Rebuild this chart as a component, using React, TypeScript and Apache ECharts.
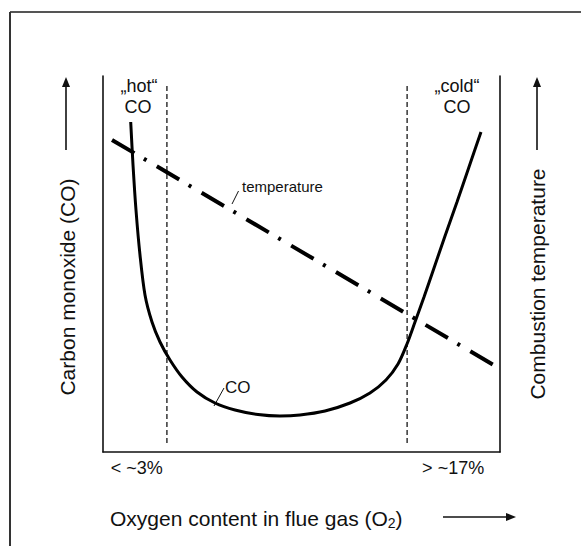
import React, { useEffect, useRef } from "react";
import * as echarts from "echarts";

// ---- data (abstract 0..100 scales: x = O2 content, y = CO / temperature) ----
const coX = [6.98, 7.56, 8.31, 9.32, 10.58, 12.34, 14.36, 16.88, 19.9, 23.68, 28.21, 33.25, 39.04, 44.58, 49.62, 55.92, 62.22, 67.25, 71.28, 74.31, 76.57, 78.59, 80.86, 83.38, 86.15, 89.17, 92.19, 95.21];
const coY = [87.77, 76.33, 64.36, 52.39, 41.76, 34.57, 29.26, 24.47, 19.95, 15.96, 13.03, 11.17, 9.97, 9.57, 9.84, 10.9, 13.03, 15.69, 19.15, 23.4, 28.72, 34.57, 41.22, 48.94, 57.45, 66.49, 75.8, 85.11];
const tempX = [2.27, 98.6];
const tempY = [83.0, 23.0];
const limitX = [16.1, 76.6];
const limitY = [2.4, 97.6];
const tickValues = [8.5, 88.2];
const tickLabels = ["< ~3%", "> ~17%"];
const hotLabel = ["\u201Ehot\u201C", "CO"];
const coldLabel = ["\u201Ecold\u201C", "CO"];
const xTitle = "Oxygen content in flue gas (O{sub|2})";
const yTitle = "Carbon monoxide (CO)";
const y2Title = "Combustion temperature";

const FONT = "'Liberation Sans', Arial, Helvetica, sans-serif";

export default function App() {
  const ref = useRef<HTMLDivElement>(null);
  useEffect(() => {
    if (!ref.current) return;
    const chart = echarts.init(ref.current, undefined, { renderer: "svg" });
    const axisLine = { show: true, onZero: false, lineStyle: { color: "#111", width: 1.6 } };
    const txt = (text: string, x: number, y: number, size: number, align = "center", extra: any = {}) => ({
      type: "text",
      x,
      y,
      ...extra,
      style: { text, fontSize: size, fontFamily: FONT, fill: "#111", align, verticalAlign: "middle", ...(extra.style || {}) },
    });
    const ln = (x1: number, y1: number, x2: number, y2: number, w = 1.5, c = "#111") => ({
      type: "line",
      shape: { x1, y1, x2, y2 },
      style: { stroke: c, lineWidth: w },
    });
    const head = (pts: number[][]) => ({ type: "polygon", shape: { points: pts }, style: { fill: "#111" } });

    chart.setOption({
      animation: false,
      backgroundColor: "#fff",
      grid: { left: 103, right: 81, top: 76, bottom: 94 },
      xAxis: {
        type: "value",
        min: 0,
        max: 100,
        axisLine,
        axisTick: { show: false },
        splitLine: { show: false },
        axisLabel: {
          customValues: tickValues,
          formatter: (v: number) => tickLabels[tickValues.indexOf(v)] ?? "",
          fontSize: 18,
          fontFamily: FONT,
          color: "#111",
          margin: 7,
        },
      },
      yAxis: [
        { type: "value", min: 0, max: 100, position: "left", axisLine, axisTick: { show: false }, axisLabel: { show: false }, splitLine: { show: false } },
        { type: "value", min: 0, max: 100, position: "right", axisLine, axisTick: { show: false }, axisLabel: { show: false }, splitLine: { show: false } },
      ],
      series: [
        {
          name: "CO",
          type: "line",
          yAxisIndex: 0,
          smooth: 0.3,
          showSymbol: false,
          data: coX.map((x, i) => [x, coY[i]]),
          lineStyle: { color: "#000", width: 3 },
        },
        {
          name: "temperature",
          type: "line",
          yAxisIndex: 1,
          showSymbol: false,
          data: tempX.map((x, i) => [x, tempY[i]]),
          lineStyle: { color: "#000", width: 4, type: [26, 11, 3, 12], cap: "butt" },
        },
        ...limitX.map((x) => ({
          type: "line",
          yAxisIndex: 0,
          showSymbol: false,
          data: limitY.map((y) => [x, y]),
          lineStyle: { color: "#000", width: 1.2, type: [5, 3] },
        })),
      ],
      graphic: [
        ln(10, 12, 581, 12, 2, "#555"),
        ln(10, 12, 10, 546, 2, "#333"),
        txt(hotLabel[0], 139, 86, 18),
        txt(hotLabel[1], 138, 107, 18),
        txt(coldLabel[0], 457, 86, 18),
        txt(coldLabel[1], 457, 107, 18),
        ln(232, 204, 238.5, 191, 1),
        txt("temperature", 242, 186, 15, "left"),
        ln(214, 406, 224, 388, 1),
        txt("CO", 225, 387, 17, "left"),
        txt(yTitle, 67, 287, 21, "center", { rotation: Math.PI / 2 }),
        ln(66, 150, 66, 85, 1.6),
        head([[66, 77], [62, 87], [70, 87]]),
        txt(y2Title, 537, 284, 21, "center", { rotation: Math.PI / 2 }),
        ln(537, 150, 537, 85, 1.6),
        head([[537, 77], [533, 87], [541, 87]]),
        txt(xTitle, 110, 518, 21, "left", {
          style: { rich: { sub: { fontSize: 14, fontFamily: FONT, fill: "#111", padding: [10, 0, 0, 0] } } },
        }),
        ln(443, 517, 507, 517, 1.6),
        head([[516, 517], [506, 513], [506, 521]]),
      ],
    });
    return () => chart.dispose();
  }, []);
  return <div ref={ref} style={{ position: "fixed", left: 0, top: 0, width: 581, height: 546 }} />;
}
